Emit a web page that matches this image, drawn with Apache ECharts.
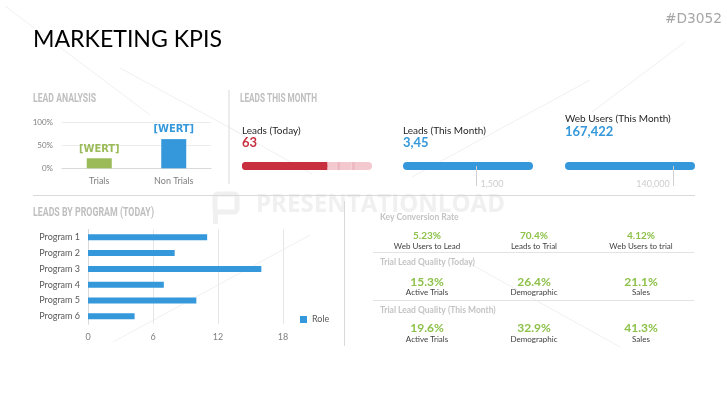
<!DOCTYPE html>
<html><head><meta charset="utf-8">
<script src="https://cdn.jsdelivr.net/npm/echarts@6/dist/echarts.min.js"></script>
<style>html,body{margin:0;padding:0;background:#fff}#c{width:727px;height:409px}</style>
</head><body><div id="c"></div>
<script>
// ---- data ----
const trialCats = ['Trials', 'Non Trials'];
const trialVals = [0.22, 0.64];
const trialLabels = ['[WERT]', '[WERT]'];

const programCats = ['Program 1', 'Program 2', 'Program 3', 'Program 4', 'Program 5', 'Program 6'];
const programVals = [11, 8, 16, 7, 10, 4.3];
const programTicks = [0, 6, 12, 18];

const gaugeTitles = ['Leads (Today)', 'Leads (This Month)', 'Web Users (This Month)'];
const gaugeValueText = ['63', '3,45', '167,422'];
const gaugeVals = [63, 2650, 167422];
const gaugeMax = [96, 2650, 167422];
const gaugeTargets = [null, 1500, 140000];
const gaugeTargetText = ['', '1,500', '140,000'];
const leadsBands = [7, 3, 8, 3, 12]; // pink bands after the red value

const kpiGroups = ['Key Conversion Rate', 'Trial Lead Quality (Today)', 'Trial Lead Quality (This Month)'];
const kpiValues = [['5.23%', '70.4%', '4.12%'], ['15.3%', '26.4%', '21.1%'], ['19.6%', '32.9%', '41.3%']];
const kpiLabels = [['Web Users to Lead', 'Leads to Trial', 'Web Users to trial'], ['Active Trials', 'Demographic', 'Sales'], ['Active Trials', 'Demographic', 'Sales']];

// ---- styles ----
const BODY = 'Lato, "Open Sans", sans-serif';
const HEAD = '"DejaVu Sans Condensed", "Liberation Sans Narrow", sans-serif';
const BLUE = '#3498db', RED = '#c8303f', GREEN = '#9bbb59', KGREEN = '#8dc14a';
const AX = '#7f7f7f';

const chart = echarts.init(document.getElementById('c'), null, {renderer: 'canvas'});
const mctx = document.createElement('canvas').getContext('2d');
function measure(text, font) { mctx.font = font; return mctx.measureText(text).width; }

const gaugeLeft = [242, 403, 565];
const grids = [
  {left: 62, top: 122.7, width: 149, height: 45.6},
  {left: 88, top: 229.4, width: 195, height: 94.8}
];
gaugeLeft.forEach(l => grids.push({left: l, top: 161, width: 130, height: 30}));

const xAxes = [
  {gridIndex: 0, type: 'category', data: trialCats, axisTick: {show: false},
   axisLine: {lineStyle: {color: '#d9d9d9'}},
   axisLabel: {color: AX, fontFamily: BODY, fontSize: 9, margin: 8}},
  {gridIndex: 1, type: 'value', min: 0, max: 18, interval: 6,
   axisLine: {show: false}, axisTick: {show: false},
   splitLine: {lineStyle: {color: '#e6e6e6'}},
   axisLabel: {color: AX, fontFamily: BODY, fontSize: 9, margin: 8}}
];
const yAxes = [
  {gridIndex: 0, type: 'value', min: 0, max: 1, interval: 0.5,
   axisLabel: {formatter: v => Math.round(v * 100) + '%', color: AX, fontFamily: BODY, fontSize: 8, margin: 9},
   splitLine: {lineStyle: {color: '#ececec'}}},
  {gridIndex: 1, type: 'category', data: programCats, inverse: true,
   axisTick: {show: false}, axisLine: {lineStyle: {color: '#d9d9d9'}},
   axisLabel: {color: '#595959', fontFamily: BODY, fontSize: 9, margin: 8}}
];
gaugeLeft.forEach((l, i) => {
  xAxes.push({gridIndex: i + 2, type: 'value', min: 0, max: gaugeMax[i], show: false});
  yAxes.push({gridIndex: i + 2, type: 'category', data: ['g', 'p1', 'p2'], inverse: true, show: false});
});

const series = [
  {type: 'bar', xAxisIndex: 0, yAxisIndex: 0, barWidth: 25,
   data: trialVals.map((v, i) => ({value: v,
     itemStyle: {color: i === 0 ? GREEN : BLUE},
     label: {show: true, position: 'top', formatter: trialLabels[i], distance: 4,
       color: i === 0 ? GREEN : BLUE, fontFamily: HEAD, fontWeight: 'bold', fontSize: 11}}))},
  {type: 'bar', name: 'Role', xAxisIndex: 1, yAxisIndex: 1, barWidth: 6,
   itemStyle: {color: BLUE}, data: programVals}
];

// gauge 1: red value + pink bands
series.push({type: 'bar', xAxisIndex: 2, yAxisIndex: 2, stack: 'g0', barWidth: 8,
  itemStyle: {color: RED, borderRadius: [4, 0, 0, 4]}, data: [gaugeVals[0], '-', '-']});
const bandColors = ['#f4c8cf', '#efbbc3', '#f4c8cf', '#efbbc3', '#f4c8cf'];
leadsBands.forEach((b, k) => series.push({type: 'bar', xAxisIndex: 2, yAxisIndex: 2, stack: 'g0', barWidth: 8,
  z: 1, itemStyle: {color: bandColors[k], borderRadius: k === leadsBands.length - 1 ? [0, 4, 4, 0] : 0},
  data: [b, '-', '-']}));
series.push({type: 'bar', xAxisIndex: 2, yAxisIndex: 2, barWidth: 8, barGap: '-100%', z: 3,
  itemStyle: {color: RED, borderRadius: 4}, data: [gaugeVals[0], '-', '-']});

for (let i = 1; i < 3; i++) {
  series.push({type: 'bar', xAxisIndex: i + 2, yAxisIndex: i + 2, barWidth: 8,
    itemStyle: {color: BLUE, borderRadius: 4}, data: [gaugeVals[i], '-', '-'],
    markLine: {silent: true, symbol: 'none', label: {show: false},
      lineStyle: {color: '#d0d0d0', type: 'solid', width: 1},
      data: [[{coord: [gaugeTargets[i], 'g']}, {coord: [gaugeTargets[i], 'p2']}]]}});
  series.push({type: 'scatter', xAxisIndex: i + 2, yAxisIndex: i + 2, symbolSize: 0,
    data: [[gaugeTargets[i], 'p2']],
    label: {show: true, position: i === 1 ? 'right' : 'left', distance: 4, formatter: gaugeTargetText[i],
      color: '#bfbfbf', fontFamily: BODY, fontSize: 9, offset: [0, -2]}});
}

// ---- graphic texts & lines ----
const g = [];
function txt(x, y, text, font, fill, align, fitWidth) {
  const el = {type: 'text', x: x, y: y, silent: true,
    style: {text: text, font: font, fill: fill, textAlign: align || 'left', textVerticalAlign: 'middle'}};
  if (fitWidth) { el.scaleX = fitWidth / measure(text, font); }
  g.push(el);
}
function line(x1, y1, x2, y2, color) {
  g.push({type: 'line', silent: true, shape: {x1, y1, x2, y2}, style: {stroke: color, lineWidth: 1}});
}
// watermark rays
const rays = [[5, 6, 150, 115], [120, 68, 245, 136], [230, 128, 312, 174], [590, 80, 412, 177],
  [685, 42, 592, 112], [310, 235, 113, 342], [467, 262, 620, 347]];
rays.forEach(r => line(r[0], r[1], r[2], r[3], '#f0f0f0'));
// watermark text + logo
g.push({type: 'rect', silent: true, shape: {x: 215, y: 194, width: 22, height: 18, r: 3},
  style: {fill: 'none', stroke: '#f0f0f0', lineWidth: 5}});
g.push({type: 'rect', silent: true, shape: {x: 213, y: 210, width: 5, height: 14}, style: {fill: '#f0f0f0'}});
txt(256, 205, 'PRESENTATIONLOAD', 'bold 25px "Open Sans", sans-serif', '#f0f0f0', 'left', 249);

txt(33, 40, 'MARKETING KPIS', '23px ' + BODY, '#000', 'left', 189);
txt(665, 19, '#D3052', '14px ' + HEAD, '#a6a6a6', 'left', 57);

const HFONT = 'bold 13px Roboto, sans-serif';
txt(33, 99, 'LEAD ANALYSIS', HFONT, '#bfbfbf', 'left', 63);
txt(240, 99, 'LEADS THIS MONTH', HFONT, '#bfbfbf', 'left', 77);
txt(33, 213, 'LEADS BY PROGRAM (TODAY)', HFONT, '#bfbfbf', 'left', 121);

line(229, 90, 229, 184, '#d9d9d9');
line(33, 195.5, 695, 195.5, '#d9d9d9');
line(344.5, 201, 344.5, 346, '#d9d9d9');

const gTitleY = [130.5, 130.5, 118.3];
const gValY = [143, 143, 131.5];
gaugeLeft.forEach((l, i) => {
  txt(l, gTitleY[i], gaugeTitles[i], '10px ' + BODY, '#262626');
  txt(l, gValY[i], gaugeValueText[i], 'bold 13px ' + BODY, i === 0 ? RED : BLUE);
});

// KPI table
const colX = [427, 534, 641];
const groupY = [217, 262.7, 310];
const valY = [236, 281.7, 328.3];
const labY = [246, 292.3, 339];
kpiGroups.forEach((t, r) => {
  txt(380, groupY[r], t, 'bold 8.5px ' + BODY, '#c4c4c4');
  colX.forEach((x, c) => {
    txt(x, valY[r], kpiValues[r][c], 'bold ' + (r === 0 ? 10 : 12) + 'px ' + BODY, KGREEN, 'center');
    txt(x, labY[r], kpiLabels[r][c], '8px ' + BODY, '#404040', 'center');
  });
});
line(373, 252.5, 694, 252.5, '#e3e3e3');
line(373, 300.5, 694, 300.5, '#e3e3e3');

chart.setOption({
  animation: false,
  grid: grids,
  xAxis: xAxes,
  yAxis: yAxes,
  series: series,
  legend: {show: true, data: ['Role'], left: 295, top: 310, itemWidth: 7, itemHeight: 7, itemGap: 4,
    icon: 'rect', textStyle: {color: '#595959', fontFamily: BODY, fontSize: 9}},
  graphic: g
});
</script></body></html>
